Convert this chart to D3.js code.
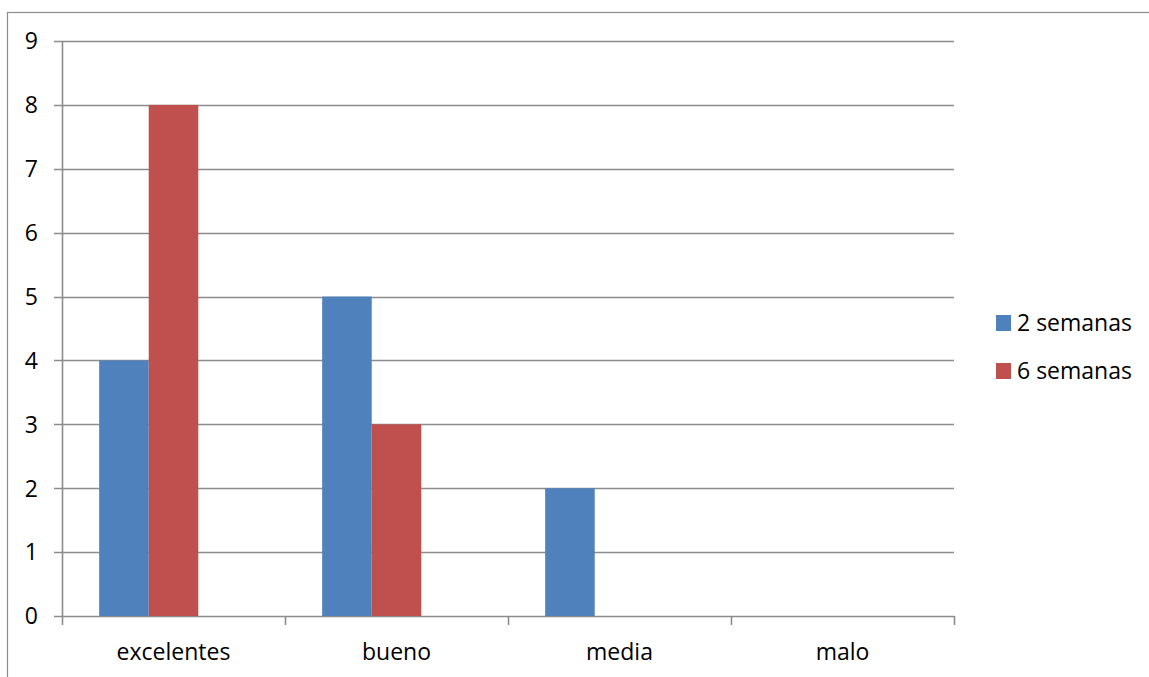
<!DOCTYPE html>
<html><head><meta charset="utf-8">
<script src="https://cdn.jsdelivr.net/npm/d3@7"></script>
<style>
html,body{margin:0;padding:0;background:#fff;}
svg{display:block;font-family:"Open Sans",Lato,sans-serif;}
</style></head>
<body>
<svg id="chart" width="1149" height="677"></svg>
<script>
const categories = ["excelentes","bueno","media","malo"];
const seriesNames = ["2 semanas","6 semanas"];
const series2sem = [4,5,2,0];
const series6sem = [8,3,0,0];
const yTicks = [0,1,2,3,4,5,6,7,8,9];
const slots = 3; // chart holds three series slots; the third is empty

const colors = ["#4F81BD","#C0504D"];
const fs = 23;
const svg = d3.select("#chart");

// outer frame
svg.append("rect").attr("x",7.5).attr("y",12.5).attr("width",1200).attr("height",700)
  .attr("fill","none").attr("stroke","#8c8c8c").attr("stroke-width",1.2);

const pL=62, pR=954, pT=41, pB=616;
const x0 = d3.scaleBand().domain(categories).range([pL,pR]).paddingInner(0).paddingOuter(0);
const x1 = d3.scaleBand().domain(d3.range(slots)).range([0,x0.bandwidth()])
  .paddingInner(0).paddingOuter(0.75);
const y = d3.scaleLinear().domain([0,9]).range([pB,pT]);

// gridlines
const grid = svg.append("g");
yTicks.forEach(t=>{
  grid.append("line").attr("x1",pL-8).attr("x2",pR).attr("y1",Math.round(y(t))+0.5).attr("y2",Math.round(y(t))+0.5)
    .attr("stroke","#8c8c8c").attr("stroke-width",1.6);
});

// bars
const data = categories.map((c,i)=>({cat:c, vals:[series2sem[i],series6sem[i]]}));
const gCat = svg.append("g").selectAll("g").data(data).join("g")
  .attr("transform",d=>`translate(${x0(d.cat)},0)`);
gCat.selectAll("rect").data(d=>d.vals.map((v,k)=>({v,k}))).join("rect")
  .attr("x",d=>x1(d.k)).attr("width",x1.bandwidth())
  .attr("y",d=>y(d.v)).attr("height",d=>y(0)-y(d.v))
  .attr("fill",d=>colors[d.k]);

// y axis line
svg.append("line").attr("x1",pL+0.5).attr("x2",pL+0.5).attr("y1",pT).attr("y2",pB+1)
  .attr("stroke","#8c8c8c").attr("stroke-width",1.6);
// x axis ticks at category boundaries
const bounds = categories.map(c=>x0(c)).concat([pR]);
bounds.forEach(b=>{
  svg.append("line").attr("x1",b+0.5).attr("x2",b+0.5).attr("y1",pB).attr("y2",pB+9)
    .attr("stroke","#8c8c8c").attr("stroke-width",1.6);
});

// y labels
svg.append("g").selectAll("text").data(yTicks).join("text")
  .attr("x",38).attr("y",d=>y(d)).attr("dy","0.36em").attr("text-anchor","end")
  .attr("font-size",fs).attr("fill","#000").text(d=>d);

// category labels
svg.append("g").selectAll("text").data(categories).join("text")
  .attr("x",d=>x0(d)+x0.bandwidth()/2).attr("y",660).attr("text-anchor","middle")
  .attr("font-size",fs).attr("fill","#000").text(d=>d);

// legend
const lg = svg.append("g").selectAll("g").data(seriesNames).join("g")
  .attr("transform",(d,i)=>`translate(996,${323+i*48})`);
lg.append("rect").attr("x",0).attr("y",-8).attr("width",15).attr("height",16).attr("fill",(d,i)=>colors[i]);
lg.append("text").attr("x",21).attr("y",0).attr("dy","0.36em").attr("font-size",fs).attr("fill","#000").text(d=>d);
</script>
</body></html>
